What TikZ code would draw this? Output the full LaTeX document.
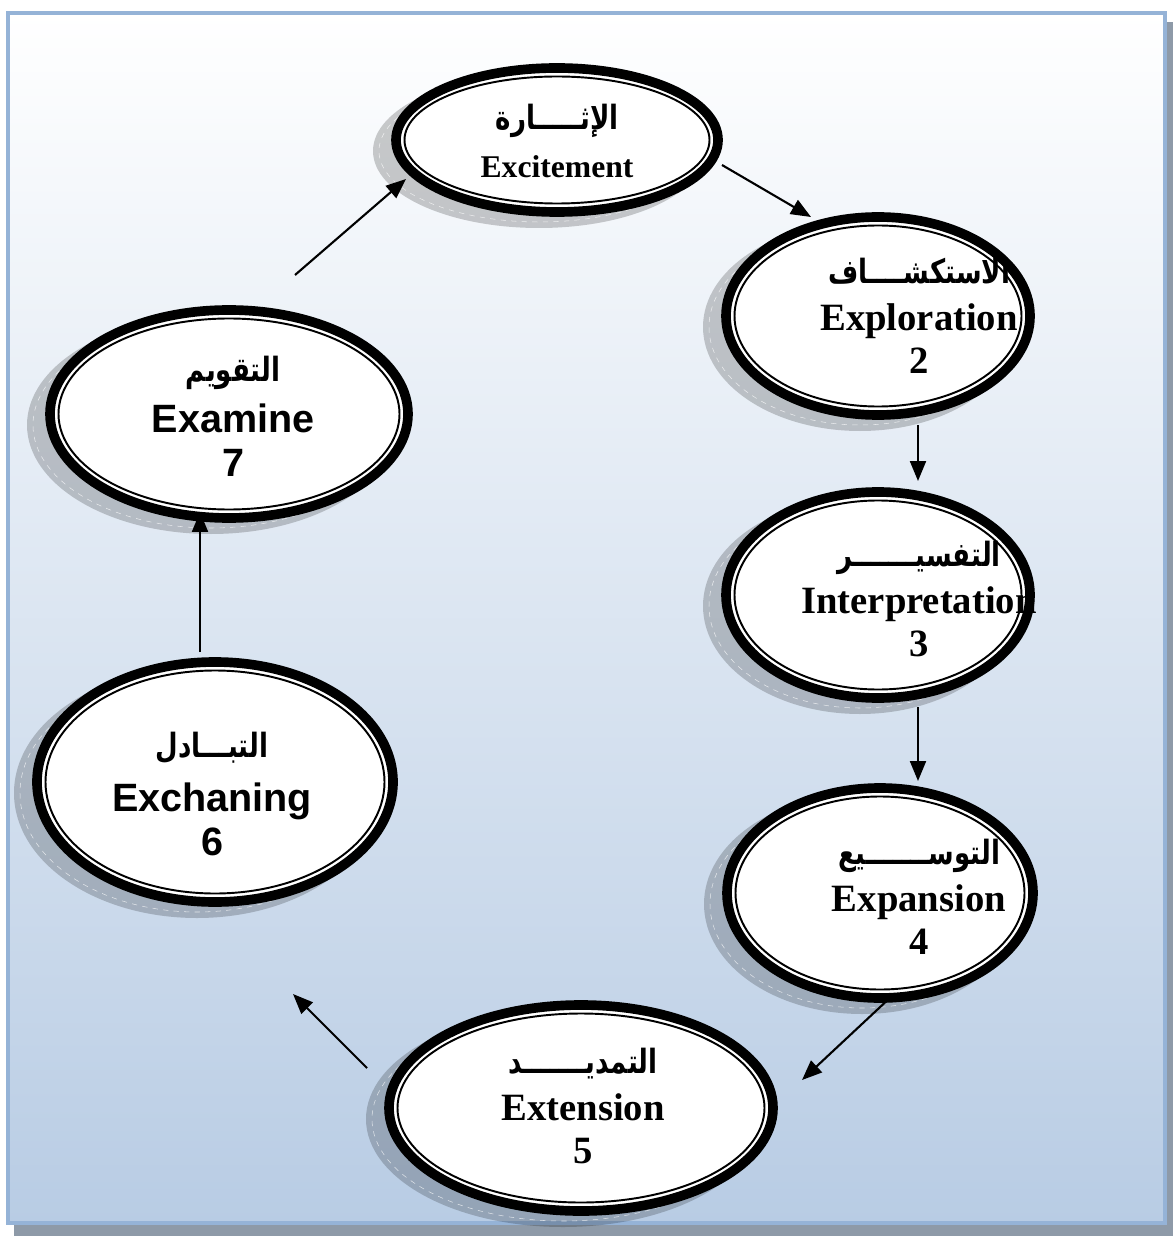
\documentclass[tikz,border=0pt]{standalone}
\usepackage{fontspec}
\setmainfont{Liberation Serif}
\newfontfamily\arialfont{Liberation Sans}
\newfontfamily\arabicfont[Script=Arabic, FakeStretch=0.78]{DejaVu Sans}
\TeXXeTstate=1
\usetikzlibrary{arrows.meta}
\definecolor{framefill}{HTML}{B8CCE4}
\definecolor{frameline}{HTML}{95B3D7}
\definecolor{frameshadow}{HTML}{8E9AA8}
\newcommand{\ar}[1]{{\arabicfont\fontsize{19}{22}\selectfont\beginR #1\endR}}
% shadow, thick outer line and thin inner line of one stage
\newcommand{\ring}[4]{%
	\fill[ringshadow] (#1-18,#2+11) ellipse [x radius=#3, y radius=#4];
	\draw[shadowdash] (#1-18,#2+11) ellipse [x radius=#3-6, y radius=#4-6];
	\draw[ringouter] (#1,#2) ellipse [x radius=#3-5, y radius=#4-5];
	\draw[ringinner] (#1,#2) ellipse [x radius=#3-13.5, y radius=#4-13.5];
}
\tikzset{
	ringshadow/.style = {fill=black, opacity=0.2},
	shadowdash/.style = {draw=white, dashed, line width=0.3pt, opacity=0.7},
	ringouter/.style = {draw=black, fill=white, line width=5.5pt},
	ringinner/.style = {draw=black, line width=1.1pt},
	stage/.style = {align=center, inner sep=0pt, font=\bfseries\fontsize{22}{24.5}\selectfont},
	sansstage/.style = {stage, font=\arialfont\bfseries\fontsize{22.5}{25}\selectfont},
	flow/.style = {->, line width=1.2pt}
}

\begin{document}
\begin{tikzpicture}[x=0.02cm, y=-0.02cm, >={Triangle[length=0.4cm, width=0.32cm]}]
	\useasboundingbox (0,0) rectangle (1173,1236);
	\fill[frameshadow] (14,22) rectangle (1173,1236);
	\shade[top color=white, bottom color=framefill] (7,12) rectangle (1166,1224);
	\draw[frameline, line width=2.2pt] (8,13) rectangle (1165,1223);

	\ring{557}{140}{166}{77}
	\ring{878}{316}{157}{104}
	\ring{878}{595}{157}{108}
	\ring{880}{893}{158}{110}
	\ring{581}{1108}{197}{108}
	\ring{215}{782}{183}{125}
	\ring{229}{414}{184}{109}

	\node[stage, font=\bfseries\fontsize{18}{22}\selectfont] (e1) at (557,141) {\ar{الإثـــــارة}\\[5pt] Excitement};
	\node[stage] (e2) at (919,316) {\ar{الاستكشــــاف}\\[2pt] Exploration\\ 2};
	\node[stage] (e3) at (919,599) {\ar{التفسيـــــــر}\\[2pt] Interpretation\\ 3};
	\node[stage] (e4) at (919,897) {\ar{التوســـــــيع}\\[2pt] Expansion\\ 4};
	\node[stage] (e5) at (583,1106) {\ar{التمديـــــــد}\\[2pt] Extension\\ 5};
	\node[sansstage] (e6) at (212,794) {\ar{التبـــادل}\\[6pt] Exchaning\\ 6};
	\node[sansstage] (e7) at (233,416) {\ar{التقويم}\\[4pt] Examine\\ 7};

	\coordinate (t71) at (295,275);
	\coordinate (h71) at (406,179);
	\coordinate (t12) at (722,165);
	\coordinate (h12) at (811,217);
	\coordinate (t23) at (918,425);
	\coordinate (h23) at (918,481);
	\coordinate (t34) at (918,707);
	\coordinate (h34) at (918,781);
	\coordinate (t45) at (893,995);
	\coordinate (h45) at (802,1080);
	\coordinate (t56) at (367,1068);
	\coordinate (h56) at (293,994);
	\coordinate (t67) at (200,652);
	\coordinate (h67) at (200,512);

	\draw[flow] (t71) -- (h71);
	\draw[flow] (t12) -- (h12);
	\draw[flow] (t23) -- (h23);
	\draw[flow] (t34) -- (h34);
	\draw[flow] (t45) -- (h45);
	\draw[flow] (t56) -- (h56);
	\draw[flow] (t67) -- (h67);
\end{tikzpicture}
\end{document}
